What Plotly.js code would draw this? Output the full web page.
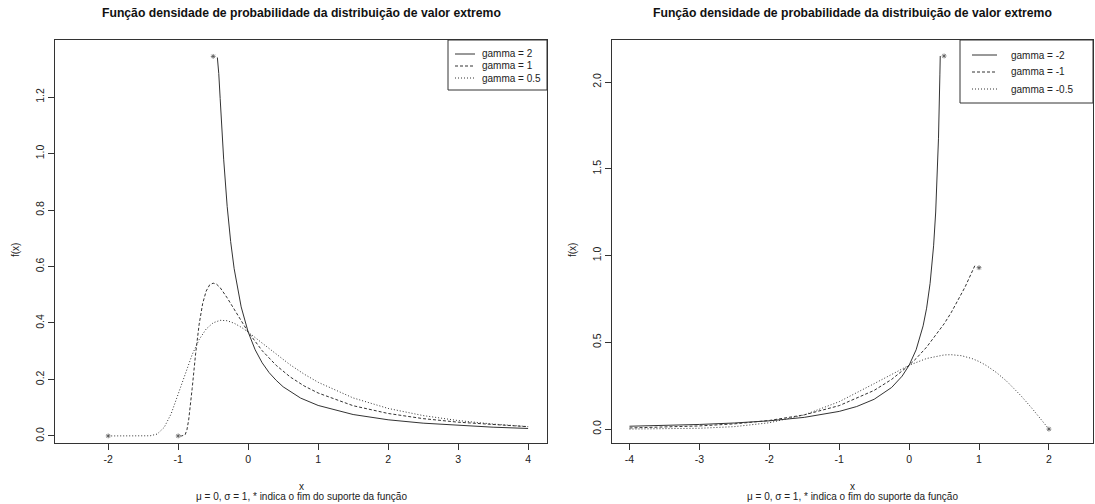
<!DOCTYPE html>
<html>
<head>
<meta charset="utf-8">
<script src="https://cdn.plot.ly/plotly-3.0.1.min.js"></script>
<style>html,body{margin:0;padding:0;background:#fff;}#chart{width:1095px;height:504px;}</style>
</head>
<body>
<div id="chart"></div>
<script>
// ---------- data ----------
const chartTitle = "Função densidade de probabilidade da distribuição de valor extremo";
const xAxisLabel = "x";
const yAxisLabel = "f(x)";
const captionText = "μ = 0, σ = 1, * indica o fim do suporte da função";

// left panel
const legendLeft = ["gamma = 2", "gamma = 1", "gamma = 0.5"];
const xG2 = [-0.44,-0.43,-0.42,-0.4,-0.35,-0.3,-0.25,-0.2,-0.15,-0.1,0,0.1,0.2,0.3,0.4,0.5,0.75,1,1.5,2,2.5,3,3.5,4];
const yG2 = [1.340,1.319,1.283,1.195,0.980,0.813,0.688,0.592,0.517,0.457,0.368,0.305,0.259,0.224,0.197,0.174,0.134,0.108,0.0758,0.0572,0.0452,0.0370,0.0310,0.0265];
const xG1 = [-0.97,-0.95,-0.9,-0.875,-0.85,-0.825,-0.8,-0.75,-0.7,-0.65,-0.6,-0.55,-0.5,-0.45,-0.4,-0.3,-0.2,-0.1,0,0.2,0.4,0.6,0.8,1,1.5,2,2.5,3,3.5,4];
const yG1 = [0,0,0.0045,0.0215,0.0566,0.1077,0.168,0.293,0.396,0.469,0.513,0.535,0.541,0.537,0.525,0.489,0.448,0.406,0.368,0.302,0.250,0.209,0.177,0.152,0.107,0.0796,0.0613,0.0487,0.0395,0.0327];
const xG05 = [-2,-1.8,-1.6,-1.5,-1.4,-1.3,-1.2,-1.1,-1,-0.9,-0.8,-0.7,-0.6,-0.5,-0.4,-0.3,-0.2,-0.1,0,0.2,0.4,0.6,0.8,1,1.5,2,2.5,3,3.5,4];
const yG05 = [0,0,0,0.00001,0.00055,0.0067,0.0302,0.0787,0.1465,0.2205,0.2879,0.3415,0.3787,0.4006,0.4094,0.4080,0.3991,0.3851,0.368,0.3288,0.2890,0.2519,0.2188,0.1900,0.1346,0.0974,0.0721,0.0545,0.0421,0.0331];
const starLeftX = [-0.5, -1, -2];
const starLeftY = [1.344, 0, 0];
const xTicksLeft = [-2,-1,0,1,2,3,4];
const yTicksLeft = [0,0.2,0.4,0.6,0.8,1.0,1.2];

// right panel
const legendRight = ["gamma = -2", "gamma = -1", "gamma = -0.5"];
const xGm2 = [-4,-3.5,-3,-2.5,-2,-1.5,-1,-0.75,-0.5,-0.25,-0.1,0,0.05,0.1,0.2,0.25,0.3,0.35,0.38,0.4,0.42,0.44,0.445];
const yGm2 = [0.0166,0.0209,0.0268,0.0353,0.0478,0.0677,0.1021,0.1301,0.1719,0.2399,0.3053,0.368,0.4083,0.457,0.595,0.697,0.840,1.056,1.251,1.430,1.676,2.041,2.150];
const xGm1 = [-4,-3.5,-3,-2.5,-2,-1.5,-1,-0.5,-0.25,0,0.1,0.25,0.4,0.5,0.6,0.75,0.8,0.94];
const yGm1 = [0.0067,0.0111,0.0183,0.0302,0.0498,0.0821,0.1353,0.2231,0.2865,0.3679,0.4066,0.4724,0.5488,0.6065,0.6703,0.7788,0.8187,0.9418];
const xGm05 = [-4,-3.5,-3,-2.5,-2,-1.5,-1,-0.5,-0.25,0,0.25,0.5,0.6,0.75,0.9,1,1.1,1.25,1.4,1.5,1.6,1.75,1.9,2];
const yGm05 = [0.0004,0.0014,0.0048,0.0143,0.0366,0.0819,0.1581,0.2620,0.3174,0.3679,0.4069,0.4274,0.4288,0.4229,0.4065,0.3894,0.3675,0.3258,0.2742,0.2348,0.1922,0.1231,0.0499,0];
const starRightX = [0.5, 1, 2];
const starRightY = [2.15, 0.93, 0];
const xTicksRight = [-4,-3,-2,-1,0,1,2];
const yTicksRight = [0,0.5,1.0,1.5,2.0];

// ---------- styling / layout ----------
const W = 1095, H = 504;
const PX = p => p / W;
const PY = p => 1 - p / H;
const INK = "#222";
const LINE = "#333";
const FONT = "Liberation Sans, Arial, sans-serif";
const dashes = ["solid", "3px,2px", "1px,2px"];

function curve(x, y, k, xa, ya, name) {
  return {x: x, y: y, mode: "lines", name: name, xaxis: xa, yaxis: ya, showlegend: false,
    line: {color: LINE, width: 1, dash: dashes[k]}, hoverinfo: "skip"};
}
function stars(x, y, xa, ya) {
  return {x: x, y: y, mode: "markers", xaxis: xa, yaxis: ya, showlegend: false,
    marker: {symbol: "asterisk-open", size: 4, line: {width: 0.8, color: "#555"}, color: "#555"}, hoverinfo: "skip"};
}

const data = [
  curve(xG2, yG2, 0, "x", "y", legendLeft[0]),
  curve(xG1, yG1, 1, "x", "y", legendLeft[1]),
  curve(xG05, yG05, 2, "x", "y", legendLeft[2]),
  stars(starLeftX, starLeftY, "x", "y"),
  curve(xGm2, yGm2, 0, "x2", "y2", legendRight[0]),
  curve(xGm1, yGm1, 1, "x2", "y2", legendRight[1]),
  curve(xGm05, yGm05, 2, "x2", "y2", legendRight[2]),
  stars(starRightX, starRightY, "x2", "y2")
];

const plotTop = 40, plotBottom = 443;
const panels = [
  {l: 55, r: 547},
  {l: 612, r: 1093}
];

function axisX(domain, range, ticks, anchor) {
  return {domain: domain, range: range, anchor: anchor, tickmode: "array", tickvals: ticks,
    ticktext: ticks.map(v => String(v)),
    showgrid: false, zeroline: false, showline: true, mirror: true, linecolor: LINE, linewidth: 1,
    ticks: "outside", ticklen: 6, tickwidth: 1, tickcolor: LINE,
    tickfont: {family: FONT, size: 10.5, color: INK}, fixedrange: true};
}
function axisY(range, ticks, anchor) {
  return {domain: [PY(plotBottom), PY(plotTop)], range: range, anchor: anchor, tickmode: "array",
    tickvals: ticks, ticktext: ticks.map(v => v.toFixed(1)), tickangle: -90,
    showgrid: false, zeroline: false, showline: true, mirror: true, linecolor: LINE, linewidth: 1,
    ticks: "outside", ticklen: 6, tickwidth: 1, tickcolor: LINE,
    tickfont: {family: FONT, size: 10.5, color: INK}, fixedrange: true};
}

const annotations = [];
const shapes = [];
panels.forEach((p, i) => {
  const cx = (p.l + p.r) / 2;
  annotations.push({xref: "paper", yref: "paper", x: PX(cx), y: PY(13), xanchor: "center", yanchor: "middle",
    text: "<b>" + chartTitle + "</b>", showarrow: false, font: {family: FONT, size: 12.2, color: "#111"}});
  annotations.push({xref: "paper", yref: "paper", x: PX(cx), y: PY(486), xanchor: "center", yanchor: "middle",
    text: xAxisLabel, showarrow: false, font: {family: FONT, size: 10, color: INK}});
  annotations.push({xref: "paper", yref: "paper", x: PX(cx), y: PY(496), xanchor: "center", yanchor: "middle",
    text: captionText, showarrow: false, font: {family: FONT, size: 10, color: INK}});
  annotations.push({xref: "paper", yref: "paper", x: PX(p.l - 40), y: PY(250), xanchor: "center", yanchor: "middle",
    text: yAxisLabel, textangle: -90, showarrow: false, font: {family: FONT, size: 10, color: INK}});
});

// legends (drawn boxes)
const legendSpecs = [
  {labels: legendLeft, box: [448, 40, 547, 90], rows: [54, 66, 78], line: [455, 475], text: 480},
  {labels: legendRight, box: [960, 40, 1093, 103], rows: [55, 72, 89], line: [972, 997], text: 1009}
];
legendSpecs.forEach(s => {
  shapes.push({type: "rect", xref: "paper", yref: "paper", x0: PX(s.box[0]), x1: PX(s.box[2]),
    y0: PY(s.box[3]), y1: PY(s.box[1]), line: {color: LINE, width: 1}, fillcolor: "rgba(255,255,255,1)", layer: "above"});
  s.labels.forEach((lab, k) => {
    shapes.push({type: "line", xref: "paper", yref: "paper", x0: PX(s.line[0]), x1: PX(s.line[1]),
      y0: PY(s.rows[k]), y1: PY(s.rows[k]), line: {color: LINE, width: 1, dash: dashes[k]}, layer: "above"});
    annotations.push({xref: "paper", yref: "paper", x: PX(s.text), y: PY(s.rows[k]), xanchor: "left", yanchor: "middle",
      text: lab, showarrow: false, font: {family: FONT, size: 10, color: INK}});
  });
});

const layout = {
  width: W, height: H, margin: {l: 0, r: 0, t: 0, b: 0},
  paper_bgcolor: "#fff", plot_bgcolor: "#fff", showlegend: false,
  xaxis: axisX([PX(panels[0].l), PX(panels[0].r)], [-2.76, 4.27], xTicksLeft, "y"),
  yaxis: axisY([-0.025, 1.402], yTicksLeft, "x"),
  xaxis2: axisX([PX(panels[1].l), PX(panels[1].r)], [-4.25, 2.63], xTicksRight, "y2"),
  yaxis2: axisY([-0.08, 2.242], yTicksRight, "x2"),
  annotations: annotations, shapes: shapes
};

Plotly.newPlot("chart", data, layout, {staticPlot: true, displayModeBar: false});
</script>
</body>
</html>
